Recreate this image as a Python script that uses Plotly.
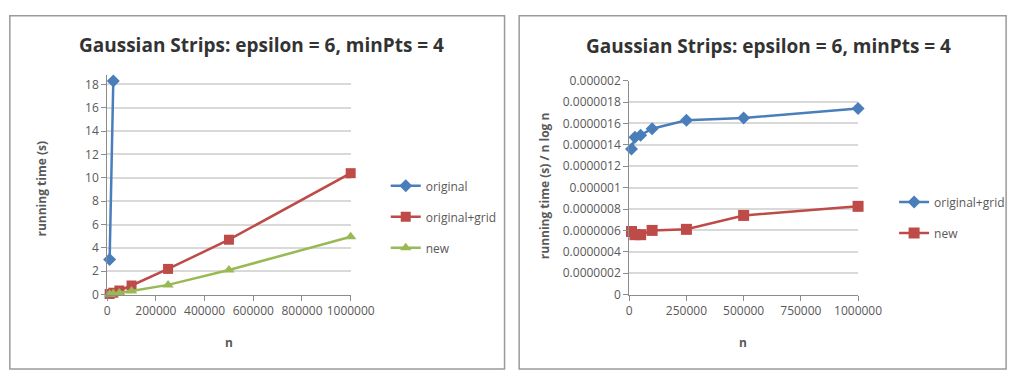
import plotly.graph_objects as go

# Running times for DBSCAN variants on the Gaussian Strips data set
n_original = [10000, 25000]
t_original = [3.0, 18.3]

n_values = [10000, 25000, 50000, 100000, 250000, 500000, 1000000]
t_grid = [0.054, 0.16, 0.35, 0.78, 2.2, 4.7, 10.4]
t_new = [0.024, 0.062, 0.13, 0.30, 0.83, 2.11, 4.95]

# Running time normalised by n log n
r_grid = [1.36e-6, 1.47e-6, 1.49e-6, 1.55e-6, 1.63e-6, 1.65e-6, 1.74e-6]
r_new = [0.59e-6, 0.56e-6, 0.56e-6, 0.60e-6, 0.61e-6, 0.74e-6, 0.825e-6]

left_xticks = [0, 200000, 400000, 600000, 800000, 1000000]
left_yticks = [0, 2, 4, 6, 8, 10, 12, 14, 16, 18]
right_xticks = [0, 250000, 500000, 750000, 1000000]
right_yticks = [0, 2e-7, 4e-7, 6e-7, 8e-7, 1e-6, 1.2e-6, 1.4e-6, 1.6e-6, 1.8e-6, 2e-6]
right_yticktext = ["0", "0.0000002", "0.0000004", "0.0000006", "0.0000008", "0.000001",
                   "0.0000012", "0.0000014", "0.0000016", "0.0000018", "0.000002"]

title_text = "Gaussian Strips: epsilon = 6, minPts = 4"

BLUE = "#4a7ebb"
RED = "#be4b48"
GREEN = "#98b954"
GRID = "#d9d9d9"
AXIS = "#8c8c8c"
TEXT = "#595959"
FONT = "Open Sans"

W, H = 1034, 379


def px(x):
    return x / W


def py(y):
    return 1 - y / H


# Left value axis: 0 sits at y=299 px and 18 at y=79 px; the top is extended
# a little so the 18.3 s point stays inside the plotting range.
LEFT_YMAX = 18.8
left_top = 299 - LEFT_YMAX / 18 * (299 - 79)

fig = go.Figure()

fig.add_trace(go.Scatter(
    x=n_original, y=t_original, name="original", mode="lines+markers",
    line=dict(color=BLUE, width=2.5), marker=dict(symbol="diamond", size=10, color=BLUE),
    xaxis="x", yaxis="y", legend="legend", legendgroup="a", cliponaxis=False))
fig.add_trace(go.Scatter(
    x=n_values, y=t_grid, name="original+grid", mode="lines+markers",
    line=dict(color=RED, width=2.5), marker=dict(symbol="square", size=10, color=RED),
    xaxis="x", yaxis="y", legend="legend", legendgroup="b", cliponaxis=False))
fig.add_trace(go.Scatter(
    x=n_values, y=t_new, name="new", mode="lines+markers",
    line=dict(color=GREEN, width=2.5), marker=dict(symbol="triangle-up", size=10, color=GREEN),
    xaxis="x", yaxis="y", legend="legend", legendgroup="c", cliponaxis=False))

fig.add_trace(go.Scatter(
    x=n_values, y=r_grid, name="original+grid", mode="lines+markers",
    line=dict(color=BLUE, width=2.5), marker=dict(symbol="diamond", size=10, color=BLUE),
    xaxis="x2", yaxis="y2", legend="legend2", legendgroup="d", cliponaxis=False))
fig.add_trace(go.Scatter(
    x=n_values, y=r_new, name="new", mode="lines+markers",
    line=dict(color=RED, width=2.5), marker=dict(symbol="square", size=11, color=RED),
    xaxis="x2", yaxis="y2", legend="legend2", legendgroup="e", cliponaxis=False))

axis_common = dict(
    showline=True, linecolor=AXIS, linewidth=1, ticks="outside", tickcolor=AXIS,
    ticklen=5, tickfont=dict(family=FONT, size=12, color=TEXT), zeroline=False,
)

fig.update_layout(
    width=W, height=H, autosize=False,
    margin=dict(l=0, r=0, t=0, b=0),
    paper_bgcolor="white", plot_bgcolor="white",
    font=dict(family=FONT, color=TEXT),
    xaxis=dict(domain=[px(107), px(357)], range=[0, 1000000], tickvals=left_xticks,
               ticktext=[str(v) for v in left_xticks], showgrid=False,
               anchor="y", **axis_common),
    yaxis=dict(domain=[py(299), py(left_top)], range=[0, LEFT_YMAX], tickvals=left_yticks,
               showgrid=True, gridcolor=GRID, gridwidth=1.5, anchor="x", **axis_common),
    xaxis2=dict(domain=[px(643), px(878)], range=[0, 1000000], tickvals=right_xticks,
                ticktext=[str(v) for v in right_xticks], showgrid=False,
                anchor="y2", **axis_common),
    yaxis2=dict(domain=[py(299), py(75)], range=[0, 2e-6], tickvals=right_yticks,
                ticktext=right_yticktext, showgrid=True, gridcolor=GRID, gridwidth=1.5,
                anchor="x2", **axis_common),
    legend=dict(x=px(393), y=py(170), xanchor="left", yanchor="top",
                font=dict(family=FONT, size=12, color=TEXT), tracegroupgap=12,
                bgcolor="rgba(0,0,0,0)", itemclick=False),
    legend2=dict(x=px(915), y=py(187), xanchor="left", yanchor="top",
                 font=dict(family=FONT, size=12, color=TEXT), tracegroupgap=12,
                 bgcolor="rgba(0,0,0,0)", itemclick=False),
    showlegend=True,
)

# Panel frames
for x0, x1 in [(7, 515), (530, 1030)]:
    fig.add_shape(type="rect", xref="paper", yref="paper",
                  x0=px(x0), x1=px(x1), y0=py(377), y1=py(7),
                  line=dict(color="#9a9a9a", width=1.5), fillcolor="rgba(0,0,0,0)")

annotations = [
    dict(x=px(265), y=py(38), text="<b>" + title_text + "</b>", font=dict(size=19, color="#333333")),
    dict(x=px(786), y=py(39), text="<b>" + title_text + "</b>", font=dict(size=19, color="#333333")),
    dict(x=px(40), y=py(188), text="<b>running time (s)</b>", textangle=-90, font=dict(size=12)),
    dict(x=px(556), y=py(185), text="<b>running time (s) / n log n</b>", textangle=-90, font=dict(size=12)),
    dict(x=px(232), y=py(349), text="<b>n</b>", font=dict(size=12)),
    dict(x=px(760), y=py(349), text="<b>n</b>", font=dict(size=12)),
]
for a in annotations:
    fig.add_annotation(xref="paper", yref="paper", showarrow=False,
                       xanchor="center", yanchor="middle", **a)

fig.write_html("out.html")
